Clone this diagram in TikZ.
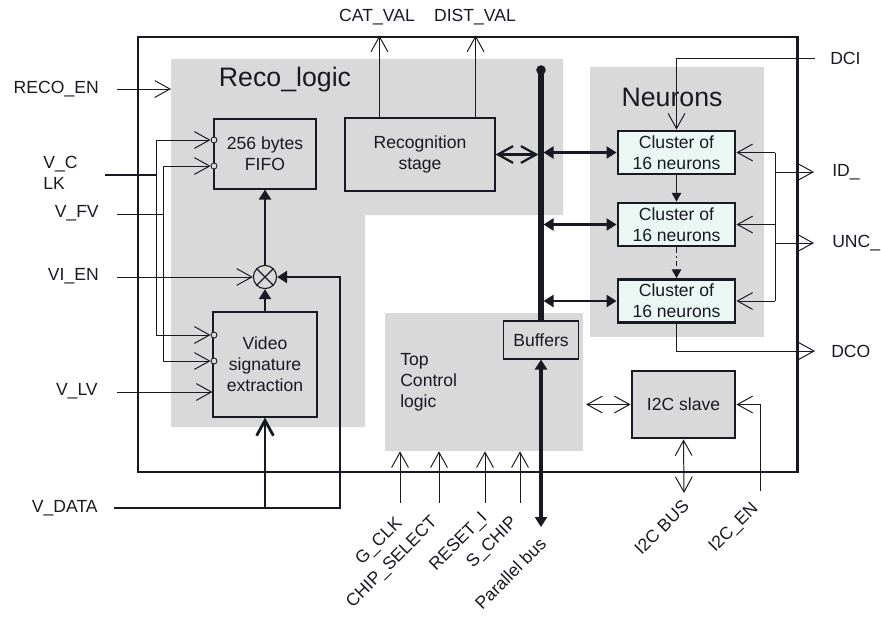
\documentclass[tikz,border=0pt]{standalone}
\usepackage{fontspec}
\setmainfont{Liberation Sans}
\usetikzlibrary{arrows.meta, calc}
\definecolor{regiongray}{RGB}{217,217,217}
\definecolor{clusterfill}{RGB}{234,247,242}
\definecolor{ink}{RGB}{25,25,35}

\begin{document}
\begin{tikzpicture}[x=0.025cm, y=-0.025cm, >={Straight Barb[length=3.8mm, width=4.2mm]},
  fat/.tip={Triangle[length=2.5mm, width=3mm]},
  tri/.tip={Triangle[length=2.2mm, width=2.4mm]},
  every node/.style={font=\fontsize{12.5}{15}\selectfont, text=ink},
  region/.style={fill=regiongray, draw=none, inner sep=0pt},
  blk/.style={draw=ink, fill=regiongray, line width=0.8pt, align=center, inner sep=0pt},
  clus/.style={blk, fill=clusterfill, line width=2pt, minimum width=29.25mm, minimum height=10.75mm},
  lbl/.style={inner sep=0pt},
  pin/.style={draw=ink, line width=0.7pt},
  bub/.style={circle, draw=ink, fill=regiongray, line width=0.6pt, minimum size=1.5mm, inner sep=0pt},
  heavy/.style={draw=ink, line width=2pt},
  bus/.style={draw=ink, line width=3.6pt}]
  \useasboundingbox (0,0) rectangle (881,626);

  % grey areas and chip outline
  \fill[regiongray] (171,59) -- (563,59) -- (563,215) -- (365,215) -- (365,427) -- (171,427) -- cycle;
  \node[region, minimum width=49.5mm, minimum height=34.5mm] (topCtl) at (484,382) {};
  \node[region, minimum width=43.5mm, minimum height=67.5mm] (neuro) at (677,202) {};
  \node[draw=ink, line width=2pt, minimum width=164.75mm, minimum height=108.75mm, inner sep=0pt] (chip) at (467.5,254.5) {};

  \node[font=\fontsize{19}{22}\selectfont] (recoTitle) at (285,80) {Reco\_logic};
  \node[font=\fontsize{19}{22}\selectfont] (neuroTitle) at (672,97) {Neurons};
  \node[align=left, anchor=west, inner sep=0pt] (topTxt) at (400,382) {Top\\Control\\logic};

  % blocks
  \node[blk, minimum width=25.5mm, minimum height=17.5mm] (fifo) at (265,154) {256 bytes\\FIFO};
  \node[blk, minimum width=37.5mm, minimum height=18.25mm] (recog) at (420,154.5) {Recognition\\stage};
  \node[blk, minimum width=26mm, minimum height=26.25mm] (vid) at (265,364.5) {Video\\signature\\extraction};
  \node[blk, minimum width=18.75mm, minimum height=9.5mm] (buf) at (541,340) {Buffers};
  \node[clus] (clA) at (676.5,152.5) {Cluster of\\16 neurons};
  \node[clus] (clB) at (676.5,224.5) {Cluster of\\16 neurons};
  \node[clus] (clC) at (676.5,301) {Cluster of\\16 neurons};
  \node[blk, line width=2pt, minimum width=25.75mm, minimum height=16.75mm] (i2c) at (683.5,404.5) {I2C slave};
  \node[circle, draw=ink, line width=0.8pt, minimum size=5.8mm, inner sep=0pt] (mult) at (265,277) {};
  \draw[ink, line width=0.8pt] (mult.north east) -- (mult.south west) (mult.north west) -- (mult.south east);

  \node[bub] (fifoClk) at (214,140) {};
  \node[bub] (fifoFv) at (214,166) {};
  \node[bub] (vidClk) at (214,335) {};
  \node[bub] (vidFv) at (214,361) {};

  % left pins
  \node[lbl, anchor=east] (recoEn) at (99,89) {RECO\_EN};
  \node[lbl, anchor=west, align=left] (vClk) at (43,173) {V\_C\\LK};
  \node[lbl, anchor=east] (vFv) at (99,213) {V\_FV};
  \node[lbl, anchor=east] (viEn) at (99,276) {VI\_EN};
  \node[lbl, anchor=east] (vLv) at (98,391) {V\_LV};
  \node[lbl, anchor=east] (vData) at (98,508) {V\_DATA};
  \coordinate (recoIn) at (171,89);
  \coordinate (clkJ) at (156,175);
  \coordinate (fvJ) at (163,214);
  \coordinate (dataJ) at (340,508);
  \coordinate (lvS) at ($(vLv.east)+(19,1)$);
  \coordinate (dataS) at ($(vData.east)+(16,0)$);

  \draw[pin, ->] ($(recoEn.east)+(18,0)$) -- (recoIn);
  \draw[ink, line width=1.5pt] ($(vClk.east)+(27,2)$) -- (clkJ);
  \draw[pin, ->] (clkJ) |- (fifoClk);
  \draw[pin, ->] (clkJ) |- (vidClk);
  \draw[pin] ($(vFv.east)+(18,1)$) -- (fvJ);
  \draw[pin, ->] (fvJ) |- (fifoFv);
  \draw[pin, ->] (fvJ) |- (vidFv);
  \draw[pin, ->] ($(viEn.east)+(18,1)$) -- (mult.west);
  \draw[pin, ->] (lvS) -- (lvS -| vid.west);
  \draw[heavy, -{fat}] (dataS) -- (dataJ) |- (mult.east);
  \draw[heavy, ->] (vid.south |- dataS) -- (vid.south);
  \draw[heavy, -{fat}] (mult.north) -- (fifo.south);
  \draw[heavy, -{fat}] (vid.north) -- (mult.south);

  % outputs of recognition stage
  \coordinate (catS) at ($(recog.north west)+(35,0)$);
  \coordinate (distS) at ($(recog.north east)+(-20,0)$);
  \draw[pin, ->] (catS) -- (catS |- chip.north);
  \draw[pin, ->] (distS) -- (distS |- chip.north);
  \node[lbl] (catLbl) at (377,17) {CAT\_VAL};
  \node[lbl] (distLbl) at (475,17) {DIST\_VAL};

  % internal bus
  \node[circle, fill=ink, minimum size=2.4mm, inner sep=0pt] (busTop) at (541,70) {};
  \coordinate (busBot) at (541,527);
  \draw[bus] (busTop.center) -- (buf.north);
  \draw[ink, line width=2.4pt, {fat}-{fat}] (buf.south) -- (busBot);
  \draw[ink, line width=1.6pt, <->, shorten >=1.8pt] (recog.east) -- (recog.east -| busTop);
  \foreach \c in {clA, clB, clC}
    \draw[ink, line width=1.6pt, {fat}-{fat}, shorten <=1.8pt] (\c.west -| busTop) -- (\c.west);

  % neuron chain
  \draw[pin, -{tri}] (clA.south) -- (clB.north);
  \draw[pin, dash pattern=on 4pt off 2pt on 1.5pt off 2pt, -{tri}] (clB.south) -- (clC.north);

  % right pins
  \node[lbl, anchor=west] (dci) at (830,58) {DCI};
  \node[lbl, anchor=west] (idOut) at (832,172) {ID\_};
  \node[lbl, anchor=west] (uncOut) at (832,243) {UNC\_};
  \node[lbl, anchor=west] (dco) at (831,351) {DCO};
  \coordinate (rBus) at (775,200);
  \draw[pin, ->] ($(dci.west)+(-15,0)$) -| (clA.north);
  \draw[pin] (clA.east -| rBus) -- (clC.east -| rBus);
  \foreach \c in {clA, clB, clC}
    \draw[pin, ->] (\c.east -| rBus) -- (\c.east);
  \draw[pin, ->] (rBus |- idOut) -- ($(idOut.west)+(-18,0)$);
  \draw[pin, ->] (rBus |- uncOut) -- ($(uncOut.west)+(-18,0)$);
  \draw[pin, ->] (clC.south) |- ($(dco.west)+(-16,0)$);

  % I2C
  \coordinate (i2cBus) at (684,493);
  \coordinate (i2cEn) at (760,491);
  \draw[pin, <->, shorten <=2pt] (topCtl.east |- i2c.west) -- (i2c.west);
  \draw[pin, <->] (i2c.south) -- (i2cBus);
  \draw[pin, ->] (i2cEn) |- (i2c.east);
  \node[lbl, rotate=45, anchor=east] (i2cBusLbl) at ($(i2cBus)+(2,10)$) {I2C BUS};
  \node[lbl, rotate=45, anchor=east] (i2cEnLbl) at ($(i2cEn)+(-4,15)$) {I2C\_EN};

  % bottom pins
  \coordinate (gClk) at (400,503);
  \coordinate (chipSel) at (439,503);
  \coordinate (resetI) at (485,503);
  \coordinate (sChip) at (520,503);
  \foreach \p in {gClk, chipSel, resetI, sChip}
    \draw[pin, ->] (\p) -- (\p |- topCtl.south);
  \node[lbl, rotate=45, anchor=east] (gClkLbl) at ($(gClk)+(0,18)$) {G\_CLK};
  \node[lbl, rotate=45, anchor=east] (chipSelLbl) at ($(chipSel)+(-4,17)$) {CHIP\_SELECT};
  \node[lbl, rotate=45, anchor=east] (resetLbl) at ($(resetI)+(0,13)$) {RESET\_I};
  \node[lbl, rotate=45, anchor=east] (sChipLbl) at ($(sChip)+(-5,17)$) {S\_CHIP};
  \node[lbl, rotate=45, anchor=east] (busLbl) at ($(busBot)+(2,14)$) {Parallel bus};
\end{tikzpicture}
\end{document}
